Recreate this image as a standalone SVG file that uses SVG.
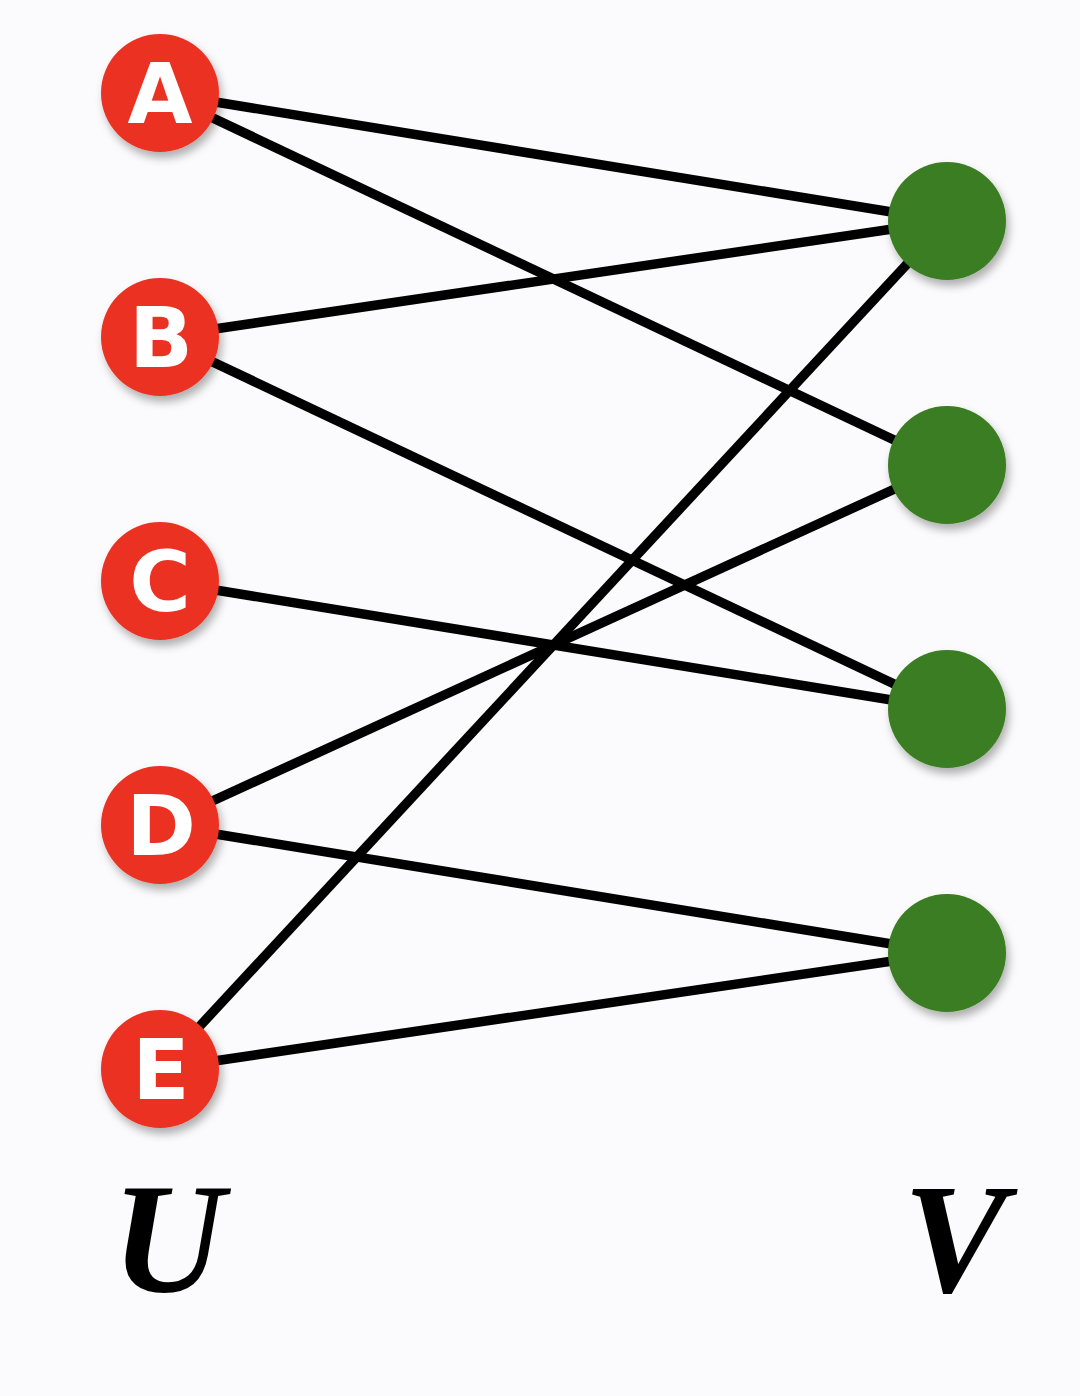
<svg xmlns="http://www.w3.org/2000/svg" width="1080" height="1396" viewBox="0 0 1080 1396">
<defs>
<filter id="sh" x="-30%" y="-30%" width="160%" height="160%">
<feDropShadow dx="3" dy="6" stdDeviation="4" flood-color="#000" flood-opacity="0.3"/>
</filter>
<style>
.e{stroke:#000;stroke-width:9.5;fill:none;stroke-linecap:butt}
.u{fill:#eb3223;filter:url(#sh)}
.v{fill:#3a7d22;filter:url(#sh)}
.t{font-family:"DejaVu Sans",sans-serif;font-weight:bold;font-size:84px;fill:#fff;text-anchor:middle}
.s{font-family:"Times New Roman","Liberation Serif",serif;font-weight:bold;font-style:italic;font-size:156px;fill:#000;text-anchor:middle}
</style>
</defs>
<rect width="1080" height="1396" fill="#fbfbfd"/>
<g id="edges">
<line class="e" x1="160" y1="93" x2="947" y2="221"/>
<line class="e" x1="160" y1="93" x2="947" y2="465"/>
<line class="e" x1="160" y1="337" x2="947" y2="221"/>
<line class="e" x1="160" y1="337" x2="947" y2="709"/>
<line class="e" x1="160" y1="581" x2="947" y2="709"/>
<line class="e" x1="160" y1="825" x2="947" y2="465"/>
<line class="e" x1="160" y1="825" x2="947" y2="953"/>
<line class="e" x1="160" y1="1069" x2="947" y2="221"/>
<line class="e" x1="160" y1="1069" x2="947" y2="953"/>
</g>
<g id="A"><circle class="u" cx="160" cy="93" r="59"/><text class="t" x="160" y="123">A</text></g>
<g id="B"><circle class="u" cx="160" cy="337" r="59"/><text class="t" x="161" y="367">B</text></g>
<g id="C"><circle class="u" cx="160" cy="581" r="59"/><text class="t" x="160" y="611">C</text></g>
<g id="D"><circle class="u" cx="160" cy="825" r="59"/><text class="t" x="161" y="855">D</text></g>
<g id="E"><circle class="u" cx="160" cy="1069" r="59"/><text class="t" x="161" y="1099">E</text></g>
<g id="V1"><circle class="v" cx="947" cy="221" r="59"/></g>
<g id="V2"><circle class="v" cx="947" cy="465" r="59"/></g>
<g id="V3"><circle class="v" cx="947" cy="709" r="59"/></g>
<g id="V4"><circle class="v" cx="947" cy="953" r="59"/></g>
<text class="s" x="168" y="1292">U</text>
<text class="s" x="955" y="1292">V</text>
</svg>
